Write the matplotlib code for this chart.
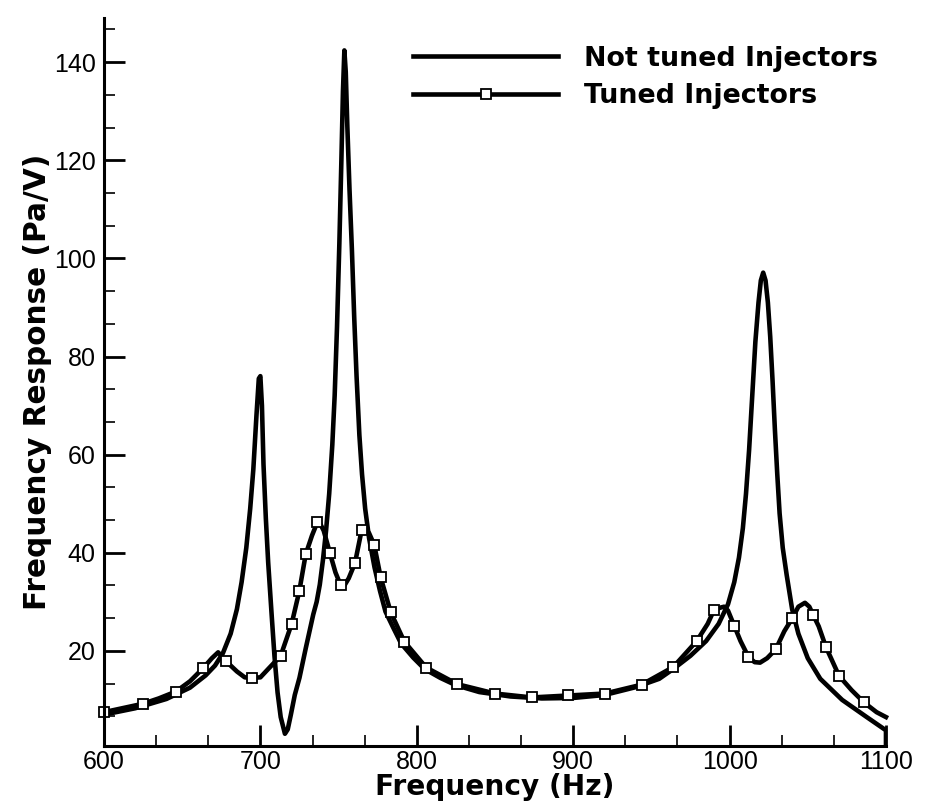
import numpy as np
import matplotlib.pyplot as plt
from matplotlib.ticker import MultipleLocator

# not tuned injectors
nt_freq = [600, 620, 640, 655, 665, 671, 676, 681, 685, 688, 691, 693.5, 695.5,
           697.5, 699, 700, 701, 702, 703.5, 705, 707.2, 709, 711, 713, 715.7,
           717.5, 719.5, 722, 725, 729, 733.8, 736, 738, 740, 742, 744, 746, 747.5,
           749, 750.5, 751.8, 752.8, 753.7, 754.6, 755.6, 757, 758.5, 760, 761.5,
           763.3, 765, 767, 769.5, 773, 776.5, 780, 785, 790, 797.8, 805, 815, 825,
           840, 860, 880, 900, 920, 940, 955, 964, 975, 985, 993, 999, 1003, 1006,
           1008.5, 1010.5, 1012.5, 1014.5, 1016.5, 1018.5, 1020, 1021.5, 1023,
           1024.5, 1026, 1027.5, 1029, 1030.5, 1032, 1034, 1036.5, 1040, 1044, 1050,
           1058, 1072, 1087.7, 1100, 1100]
nt_resp = [7.0, 8.3, 10.2, 12.5, 15.0, 17.0, 19.5, 23.5, 28.5, 34, 41, 49, 57,
           68, 75.5, 76, 70, 58, 47, 38, 27.4, 19, 11.5, 6.5, 3.1,
           4, 7, 11, 14.5, 20.5, 27.4, 30, 33.5, 38.5, 44.5, 52, 62, 72,
           86, 103, 120, 134, 142.4, 138, 127, 114, 102, 88, 76,
           64, 56, 49, 43, 37, 32.2, 28, 24.7, 21.5, 18.6, 16.3, 14.5, 13.0,
           11.6, 10.7, 10.3, 10.4, 11.0, 12.6, 14.3, 16.3, 19, 22, 25.5, 29.5, 34, 39,
           45, 52, 61, 72, 83, 91, 95.5, 97.1, 95.5,
           91, 84, 75, 65, 56, 48, 41, 35.5, 28.5, 23.5, 18.5,
           14.3, 10, 6.5, 3.8, 0]

# tuned injectors: symbol points and the curve points between them
tm_freq = [600, 624.7, 646, 663.5, 678, 694.6, 713, 720, 724.9, 729, 736.4, 744.5,
           751.3, 760.5, 764.8, 772.8, 776.9, 783.3, 792, 806, 826, 850, 873.5, 897,
           920.3, 943.7, 964, 979, 990, 1003, 1012, 1029.5, 1040, 1053.5, 1061.6,
           1070, 1085.9]
tm_resp = [7.5, 9.2, 11.7, 16.5, 17.9, 14.5, 19, 25.5, 32.2, 39.7, 46.2, 39.9,
           33.4, 37.9, 44.7, 41.6, 35, 27.9, 21.9, 16.6, 13.2, 11.3, 10.5, 10.9,
           11.3, 13.1, 16.7, 22, 28.3, 25.1, 18.8, 20.3, 26.6, 27.3, 20.8,
           14.9, 9.5]
tl_freq = [635, 655, 669, 673, 685, 690, 700, 705, 733, 737.5, 740.5, 748, 753.5,
           756.5, 767, 769.5, 986, 994, 996.5, 999, 1007, 1016, 1019.5, 1024, 1035,
           1044, 1048.2, 1051, 1057, 1078, 1094, 1100]
tl_resp = [10.3, 13.8, 18.5, 19.7, 15.8, 14.6, 14.6, 16.3, 43.5, 46.4, 44.5, 36, 33.2,
           34.8, 45, 44, 25.5, 28.8, 29.0, 28.2, 22, 17.7, 17.6, 18.5, 24,
           29, 29.8, 29, 25, 12, 7.5, 6.5]

t_freq = np.array(tm_freq + tl_freq)
t_resp = np.array(tm_resp + tl_resp)
order = np.argsort(t_freq, kind='stable')
t_freq = t_freq[order]
t_resp = t_resp[order]
marks = [i for i, k in enumerate(order) if k < len(tm_freq)]

plt.rcParams['font.family'] = ['Liberation Sans', 'DejaVu Sans']
bold = {'family': 'DejaVu Sans', 'weight': 'bold'}

fig = plt.figure(figsize=(9.25, 8.08), dpi=100)
ax = fig.add_axes([0.1124, 0.0767, 0.8454, 0.901])

ax.plot(nt_freq, nt_resp, color='black', lw=3.3, label='Not tuned Injectors')
ax.plot(t_freq, t_resp, color='black', lw=3.3, marker='s', ms=7, mfc='white',
        mec='black', mew=1.3, markevery=marks, clip_on=False, label='Tuned Injectors')

ax.set_xlim(600, 1100)
ax.set_ylim(0.6, 149)
ax.xaxis.set_major_locator(MultipleLocator(100))
ax.xaxis.set_minor_locator(MultipleLocator(100 / 3))
ax.set_yticks([20, 40, 60, 80, 100, 120, 140])
ax.yaxis.set_minor_locator(MultipleLocator(20 / 3))

for s in ['top', 'right']:
    ax.spines[s].set_visible(False)
for s in ['left', 'bottom']:
    ax.spines[s].set_linewidth(2.2)

ax.tick_params(which='major', direction='in', length=15, width=2, labelsize=18, pad=6)
ax.tick_params(axis='x', which='major', pad=3)
ax.tick_params(which='minor', direction='in', length=8, width=1.2)

ax.set_xlabel('Frequency (Hz)', fontsize=20.2, fontdict=bold, labelpad=-1)
ax.set_ylabel('Frequency Response (Pa/V)', fontsize=21.3, fontdict=bold, labelpad=1)

ax.legend(loc='upper left', bbox_to_anchor=(0.395, 0.962), frameon=False,
          handlelength=5.4, handletextpad=0.95, labelspacing=0.42, numpoints=1,
          prop={'family': 'DejaVu Sans', 'weight': 'bold', 'size': 19.4},
          borderpad=0, borderaxespad=0)

plt.savefig('out.png', dpi=100)
